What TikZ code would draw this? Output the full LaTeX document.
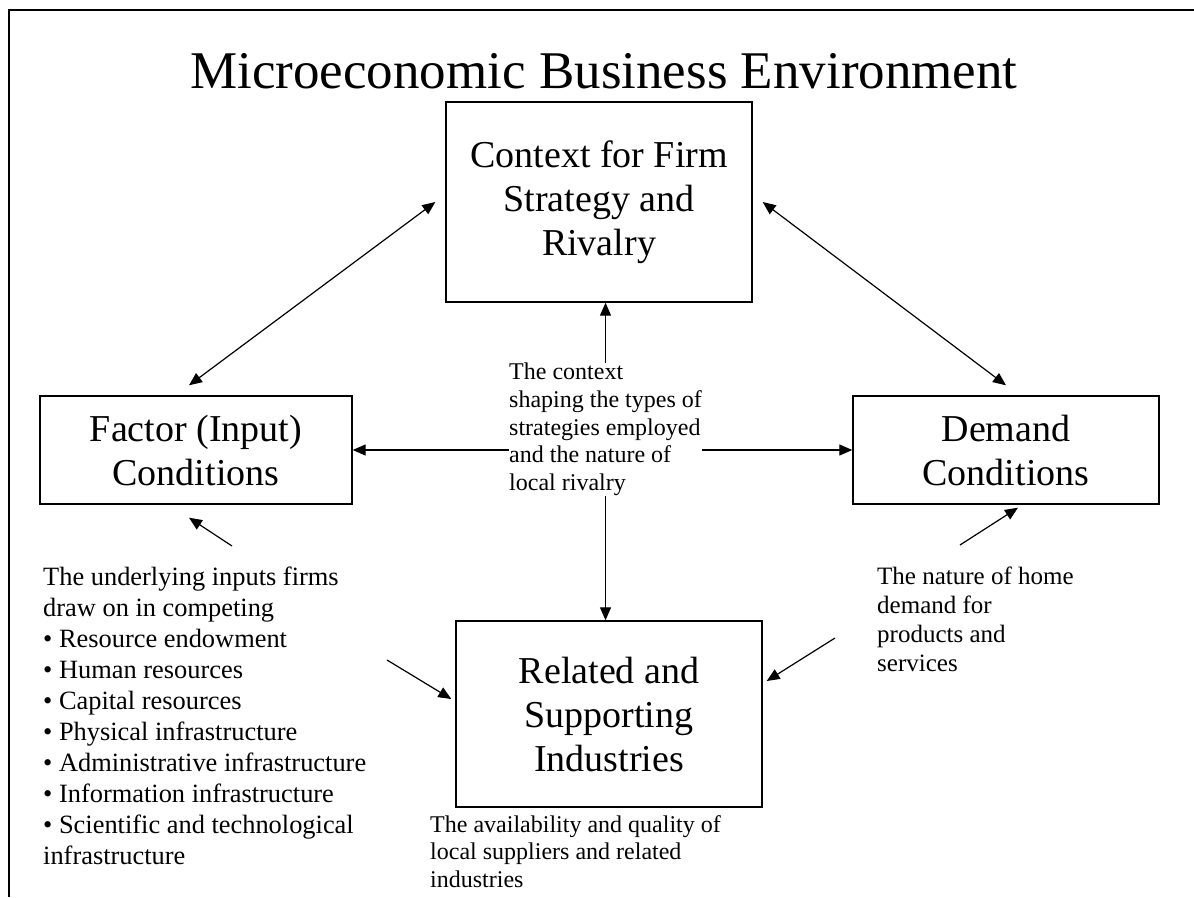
\documentclass[tikz,border=0pt]{standalone}
\usepackage{fontspec}
\setmainfont{Liberation Serif}
\usetikzlibrary{arrows.meta}

\begin{document}
\begin{tikzpicture}[x=1pt, y=-1pt,
        box/.style={draw, line width=1.4pt, align=center, inner sep=0pt,
            font=\fontsize{38}{44}\selectfont},
        note/.style={anchor=north west, align=left, inner sep=0pt,
            font=\fontsize{24}{27.6}\selectfont},
        arr/.style={-{Triangle[length=13pt,width=11pt]}, line width=1.2pt},
        link/.style={{Triangle[length=13pt,width=11pt]}-{Triangle[length=13pt,width=11pt]}, line width=1.2pt}
        ]
        \useasboundingbox (0,0) rectangle (1194,897);
        \draw[line width=1.5pt] (9,897) -- (9,10) -- (1194,10);

        \node[anchor=base, font=\fontsize{53}{60}\selectfont] (title) at (604,88) {Microeconomic Business Environment};

        % the four boxes
        \node[box, minimum width=306, minimum height=200] (rivalry) at (599,202) {Context for Firm\\Strategy and\\Rivalry};
        \node[box, minimum width=312, minimum height=108] (factor) at (196,450) {Factor (Input)\\Conditions};
        \node[box, minimum width=306, minimum height=108] (demand) at (1006,450) {Demand\\Conditions};
        \node[box, minimum width=306, minimum height=186] (related) at (609,714) {Related and\\Supporting\\Industries};

        % the notes
        \node[note] (context) at (509,363) {The context\\shaping the types of\\strategies employed\\and the nature of\\local rivalry};
        \node[note, font=\fontsize{26.4}{31}\selectfont] (inputs) at (43,567) {The underlying inputs firms\\draw on in competing\\%
            • Resource endowment\\• Human resources\\• Capital resources\\%
            • Physical infrastructure\\• Administrative infrastructure\\%
            • Information infrastructure\\• Scientific and technological\\infrastructure};
        \node[note, font=\fontsize{25}{29}\selectfont] (home) at (877,567) {The nature of home\\demand for\\products and\\services};
        \node[note] (suppliers) at (430,815) {The availability and quality of\\local suppliers and related\\industries};

        \coordinate (in1) at (232,546);
        \coordinate (in2) at (387,660);
        \coordinate (hd1) at (960,545);
        \coordinate (hd2) at (835,638);

        % links
        \draw[link] ([xshift=-10]rivalry.west) -- ([shift={(-7,-10)}]factor.north);
        \draw[link] ([xshift=10]rivalry.east) -- ([shift={(0,-10)}]demand.north);
        \draw[arr] (context.north) -- (context.north |- rivalry.south);
        \draw[arr] (context.south) -- (context.south |- related.north);
        \draw[arr] (context.west |- factor.east) -- (factor.east);
        \draw[arr] (context.east |- demand.west) -- (demand.west);
        \draw[arr] (in1) -- ([shift={(-7,13)}]factor.south);
        \draw[arr] (in2) -- ([shift={(-4,-15)}]related.west);
        \draw[arr] (hd1) -- ([shift={(12,3)}]demand.south);
        \draw[arr] (hd2) -- ([shift={(4,-33)}]related.east);
\end{tikzpicture}
\end{document}
